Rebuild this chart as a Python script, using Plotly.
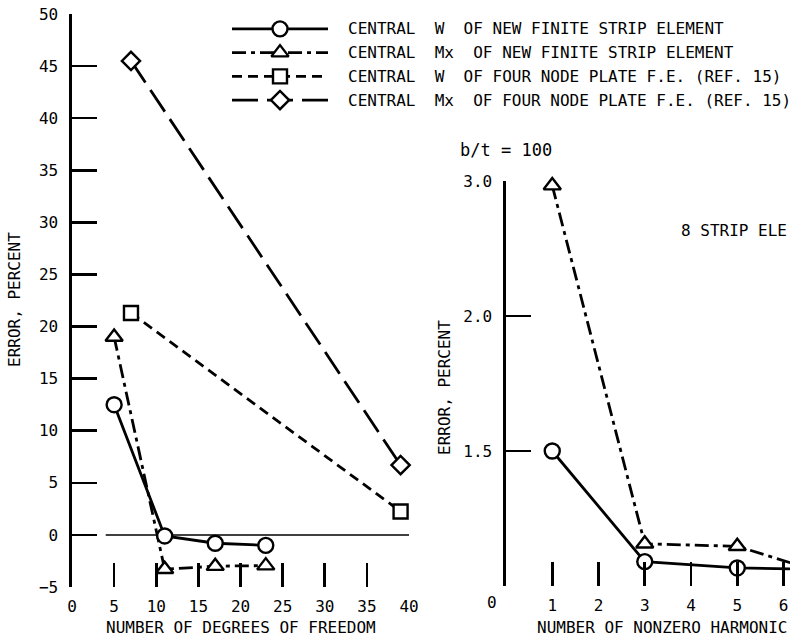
import plotly.graph_objects as go

W, H = 790, 644
FONT = "DejaVu Sans Mono, Liberation Mono, monospace"

# ---------------- data: left panel (error vs. degrees of freedom) ----------------
dof_w_strip = [5, 11, 17, 23]
err_w_strip = [12.5, -0.1, -0.8, -1.0]

dof_mx_strip = [5, 11, 17, 23]
err_mx_strip = [19.0, -3.3, -3.0, -2.95]

dof_w_plate = [7, 39]
err_w_plate = [21.3, 2.25]

dof_mx_plate = [7, 39]
err_mx_plate = [45.5, 6.7]

left_xticks = [0, 5, 10, 15, 20, 25, 30, 35, 40]
left_yticks = [-5, 0, 5, 10, 15, 20, 25, 30, 35, 40, 45, 50]
zero_line_x = [4, 40]

# ---------------- data: right panel (error vs. number of harmonics) -------------
harmonics = [1, 3, 5, 7]
err_w_harm = [1.50, 1.245, 1.233, 1.23]
err_mx_harm = [2.95, 1.28, 1.275, 1.22]

right_xticks = [1, 2, 3, 4, 5, 6]
right_yticks = [3.0, 2.0, 1.5, 1.2]
right_yticktext = ["3.0", "2.0", "1.5", ""]

legend_labels = [
    "CENTRAL\u00a0\u00a0W\u00a0\u00a0OF NEW FINITE STRIP ELEMENT",
    "CENTRAL\u00a0\u00a0Mx\u00a0\u00a0OF NEW FINITE STRIP ELEMENT",
    "CENTRAL\u00a0\u00a0W\u00a0\u00a0OF FOUR NODE PLATE F.E. (REF. 15)",
    "CENTRAL\u00a0\u00a0Mx\u00a0\u00a0OF FOUR NODE PLATE F.E. (REF. 15)",
]

# ---------------- styles ----------------
LW = 2.8
styles = [
    dict(symbol="circle", dash="solid", size=15),
    dict(symbol="triangle-up", dash="14px,5px,4px,5px", size=15),
    dict(symbol="square", dash="10px,6px", size=14),
    dict(symbol="diamond", dash="26px,9px", size=14),
]


def px(x):
    return x / W


def py(y):
    return 1 - y / H


# right axis is reciprocal (equal spacing of 3.0, 2.0, 1.5)
def recip(vals):
    return [1.0 / v for v in vals]


fig = go.Figure()


def add_series(x, y, st, xa, ya):
    fig.add_trace(go.Scatter(
        x=x, y=y, mode="lines+markers", xaxis=xa, yaxis=ya,
        line=dict(color="black", width=LW, dash=st["dash"]),
        marker=dict(symbol=st["symbol"], size=st["size"], color="white",
                    line=dict(color="black", width=2.4)),
        cliponaxis=False, showlegend=False, hoverinfo="skip"))


# left panel
add_series(dof_w_plate, err_w_plate, styles[2], "x", "y")
add_series(dof_mx_plate, err_mx_plate, styles[3], "x", "y")
add_series(dof_mx_strip, err_mx_strip, styles[1], "x", "y")
add_series(dof_w_strip, err_w_strip, styles[0], "x", "y")

# right panel
add_series(harmonics, recip(err_mx_harm), styles[1], "x2", "y2")
add_series(harmonics, recip(err_w_harm), styles[0], "x2", "y2")

# legend samples (own hidden axes)
for i, st in enumerate(styles):
    fig.add_trace(go.Scatter(
        x=[0, 1], y=[i, i], mode="lines", xaxis="x3", yaxis="y3",
        line=dict(color="black", width=LW, dash=st["dash"]),
        showlegend=False, hoverinfo="skip"))
    fig.add_trace(go.Scatter(
        x=[0.5], y=[i], mode="markers", xaxis="x3", yaxis="y3",
        marker=dict(symbol=st["symbol"], size=st["size"], color="white",
                    line=dict(color="black", width=2.4)),
        cliponaxis=False, showlegend=False, hoverinfo="skip"))

tickfont = dict(family=FONT, size=16, color="black")
common_y = dict(showline=True, linewidth=2.6, linecolor="black", ticks="inside",
                ticklen=25, tickwidth=2.6, tickcolor="black", showgrid=False,
                zeroline=False, tickfont=tickfont, ticklabelstandoff=8,
                automargin=False)
common_x = dict(showline=False, ticks="inside", ticklen=24, tickwidth=2.6,
                tickcolor="black", showgrid=False, zeroline=False,
                tickfont=tickfont, ticklabelstandoff=8, automargin=False,
                ticklabeloverflow="allow")

fig.update_layout(
    template="none",
    width=W, height=H,
    margin=dict(l=0, r=0, t=0, b=0, pad=0, autoexpand=False),
    paper_bgcolor="white", plot_bgcolor="white",
    showlegend=False,
    font=dict(family=FONT, color="black"),
    xaxis=dict(domain=[px(72), px(409)], range=[0, 40], anchor="y",
               tickvals=left_xticks, **common_x),
    yaxis=dict(domain=[py(587), py(14)], range=[-5, 50], anchor="x",
               tickvals=left_yticks, **common_y),
    xaxis2=dict(domain=[px(506), 1.0], range=[0, 6.14], anchor="y2",
                tickvals=right_xticks, **common_x),
    yaxis2=dict(domain=[py(586), py(181)], range=[1 / 1.2, 1 / 3.0], anchor="x2",
                tickvals=recip(right_yticks), ticktext=right_yticktext, **common_y),
    xaxis3=dict(domain=[px(232), px(328)], range=[0, 1], anchor="y3", visible=False,
                automargin=False),
    yaxis3=dict(domain=[py(112), py(17)], range=[3.5, -0.5], anchor="x3", visible=False,
                automargin=False),
)

# zero reference line in left panel
fig.add_shape(type="line", xref="x", yref="y", x0=zero_line_x[0], x1=zero_line_x[1],
              y0=0, y1=0, line=dict(color="black", width=1.5), layer="below")

ann = []
# legend texts
for i, lab in enumerate(legend_labels):
    ann.append(dict(text=lab, x=px(346), y=py(29 + i * 23.7), xref="paper", yref="paper",
                    xanchor="left", yanchor="middle", showarrow=False,
                    font=dict(family=FONT, size=16, color="black")))
# axis titles
ann.append(dict(text="NUMBER OF DEGREES OF FREEDOM", x=px(241), y=py(627),
                xref="paper", yref="paper", xanchor="center", yanchor="middle",
                showarrow=False, font=dict(family=FONT, size=16)))
ann.append(dict(text="NUMBER OF NONZERO HARMONIC", x=px(789), y=py(627),
                xref="paper", yref="paper", xanchor="right", yanchor="middle",
                showarrow=False, font=dict(family=FONT, size=16)))
ann.append(dict(text="ERROR, PERCENT", x=px(14), y=py(300), textangle=-90,
                xref="paper", yref="paper", xanchor="center", yanchor="middle",
                showarrow=False, font=dict(family=FONT, size=16)))
ann.append(dict(text="ERROR, PERCENT", x=px(444), y=py(388), textangle=-90,
                xref="paper", yref="paper", xanchor="center", yanchor="middle",
                showarrow=False, font=dict(family=FONT, size=16)))
# right-panel "0" label (offset left of axis)
ann.append(dict(text="0", x=0, y=py(602), xref="x2", yref="paper", xshift=-14,
                xanchor="center", yanchor="middle", showarrow=False,
                font=dict(family=FONT, size=16)))
# notes
ann.append(dict(text="b/t = 100", x=px(458), y=py(150), xref="paper", yref="paper",
                xanchor="left", yanchor="middle", showarrow=False,
                font=dict(family=FONT, size=17)))
ann.append(dict(text="8 STRIP ELE", x=px(789), y=py(230), xref="paper", yref="paper",
                xanchor="right", yanchor="middle", showarrow=False,
                font=dict(family=FONT, size=16)))
fig.update_layout(annotations=ann)

fig.write_html("out.html", config={"displayModeBar": False, "staticPlot": True},
               post_script="document.body.style.margin='0';document.body.style.overflow='hidden';")
